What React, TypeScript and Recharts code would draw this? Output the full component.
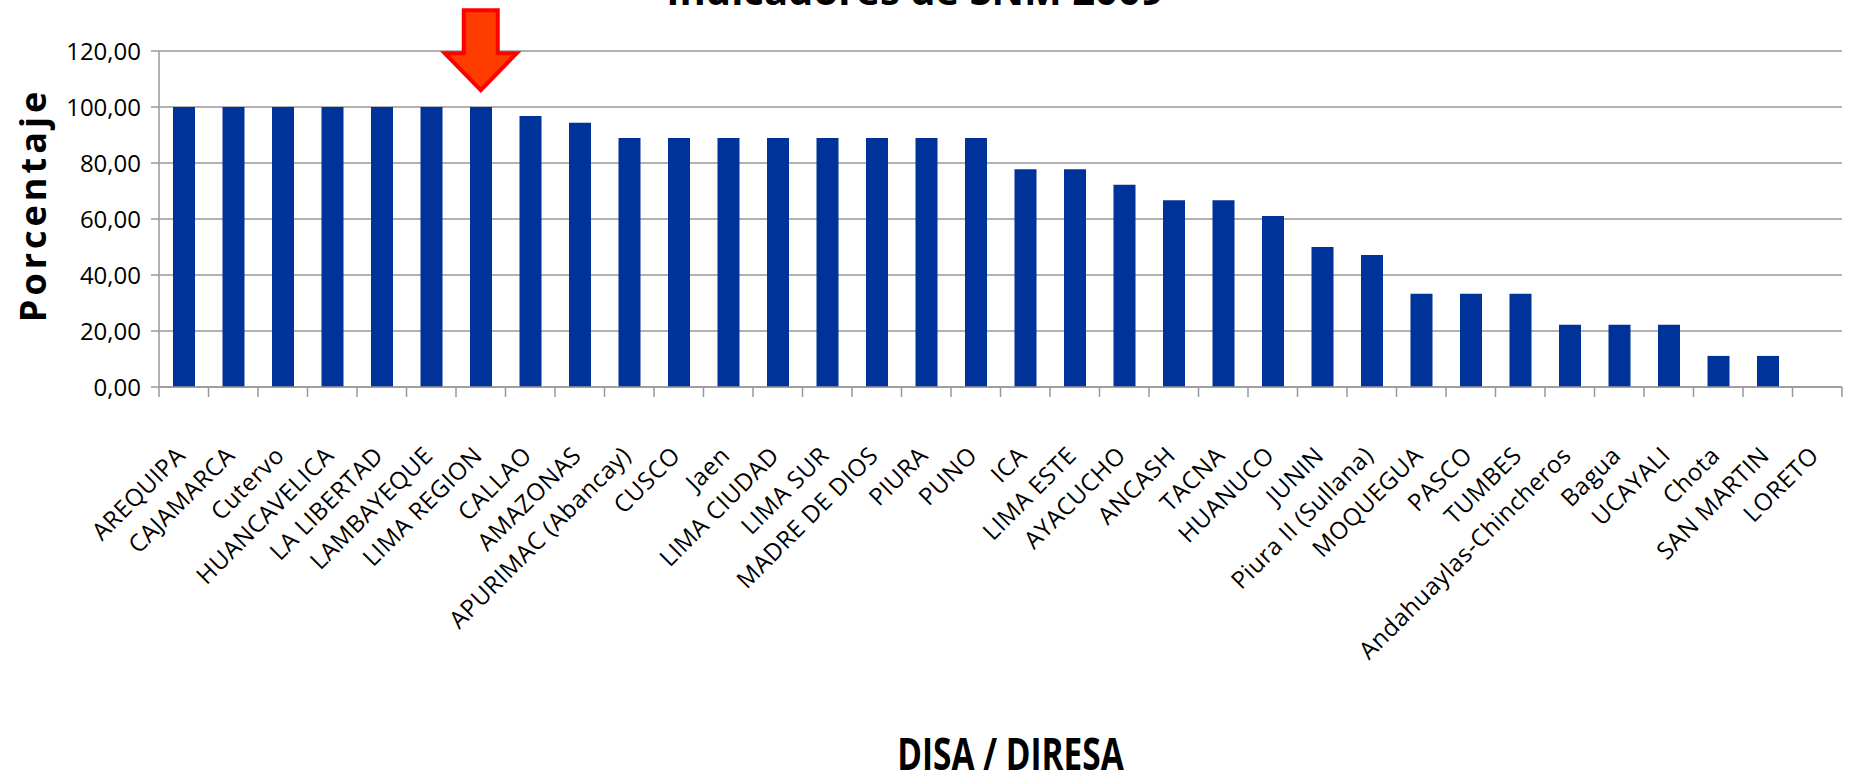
import { Bar, BarChart, CartesianGrid, Label, ReferenceDot, XAxis, YAxis } from "recharts";

const categories = [
    "AREQUIPA", "CAJAMARCA", "Cutervo", "HUANCAVELICA", "LA LIBERTAD", "LAMBAYEQUE", "LIMA REGION",
    "CALLAO", "AMAZONAS", "APURIMAC (Abancay)", "CUSCO", "Jaen", "LIMA CIUDAD", "LIMA SUR",
    "MADRE DE DIOS", "PIURA", "PUNO", "ICA", "LIMA ESTE", "AYACUCHO", "ANCASH", "TACNA",
    "HUANUCO", "JUNIN", "Piura II (Sullana)", "MOQUEGUA", "PASCO", "TUMBES",
    "Andahuaylas-Chincheros", "Bagua", "UCAYALI", "Chota", "SAN MARTIN", "LORETO",
];

const porcentaje = [
    100, 100, 100, 100, 100, 100, 100,
    96.8, 94.4, 88.89, 88.89, 88.89, 88.89, 88.89,
    88.89, 88.89, 88.89, 77.78, 77.78, 72.22, 66.67, 66.67,
    61.11, 50, 47.1, 33.33, 33.33, 33.33,
    22.22, 22.22, 22.22, 11.11, 11.11, 0,
];

const yTicks = [0, 20, 40, 60, 80, 100, 120];

const highlighted = "LIMA REGION";
const arrowTipValue = 106;

const data = categories.map((name, i) => ({ name, value: porcentaje[i] }));

const W = 1849;
const H = 780;
const Y_AXIS_W = 159;
const RIGHT = 7;
const BAND = (W - Y_AXIS_W - RIGHT) / categories.length;

const fmt = (v: number) => v.toFixed(2).replace(".", ",");

function XTick(props: any) {
    const { x, y, payload, index } = props;
    const last = index === categories.length - 1;
    return (
        <g>
            <line x1={x - BAND / 2} y1={y} x2={x - BAND / 2} y2={y + 10} stroke="#999" strokeWidth={1.5} />
            {last && <line x1={x + BAND / 2} y1={y} x2={x + BAND / 2} y2={y + 10} stroke="#999" strokeWidth={1.5} />}
            <text
                x={0}
                y={0}
                transform={`translate(${x + 3},${y + 70}) rotate(-45)`}
                textAnchor="end"
                fontFamily="Open Sans"
                fontSize={24}
                letterSpacing={0.5}
                fill="#000"
            >
                {payload.value}
            </text>
        </g>
    );
}

function Arrow(props: any) {
    const { cx, cy } = props;
    const d = `M${cx},${cy} L${cx - 36},${cy - 37} L${cx - 17},${cy - 37} L${cx - 17},${cy - 80} L${cx + 17},${cy - 80} L${cx + 17},${cy - 37} L${cx + 36},${cy - 37} Z`;
    return <path d={d} fill="#ff3c00" stroke="#ff0000" strokeWidth={4} strokeLinejoin="miter" />;
}

export default function App() {
    return (
        <div style={{ position: "absolute", left: 0, top: 0, width: W, height: H, background: "#fff", overflow: "hidden" }}>
            <BarChart
                width={W}
                height={H}
                data={data}
                margin={{ top: 51, right: RIGHT, left: 0, bottom: 0 }}
                barSize={22}
            >
                <CartesianGrid vertical={false} stroke="#999" strokeWidth={1.5} />
                <XAxis
                    dataKey="name"
                    interval={0}
                    height={H - 387}
                    tickSize={0}
                    tickMargin={0}
                    tickLine={false}
                    axisLine={{ stroke: "#999", strokeWidth: 1.5 }}
                    tick={<XTick />}
                >
                    <Label
                        content={(p: any) => {
                            const vb = p.viewBox;
                            return (
                                <text
                                    x={0}
                                    y={0}
                                    transform={`translate(${vb.x + vb.width / 2 + 10},${vb.y + vb.height - 10}) scale(0.76,1)`}
                                    textAnchor="middle"
                                    fontFamily="Open Sans"
                                    fontWeight="bold"
                                    fontSize={44}
                                    fill="#000"
                                >
                                    DISA / DIRESA
                                </text>
                            );
                        }}
                    />
                </XAxis>
                <YAxis
                    width={Y_AXIS_W}
                    domain={[0, 120]}
                    ticks={yTicks}
                    tickFormatter={fmt}
                    tickSize={8}
                    tickMargin={10}
                    tickLine={{ stroke: "#999", strokeWidth: 1.5 }}
                    axisLine={{ stroke: "#999", strokeWidth: 1.5 }}
                    tick={{ fontFamily: "Open Sans", fontSize: 24, fill: "#000" }}
                >
                    <Label
                        content={(p: any) => {
                            const vb = p.viewBox;
                            const cy = vb.y + vb.height / 2 - 14;
                            return (
                                <g>
                                    <text
                                        x={0}
                                        y={0}
                                        transform={`translate(${vb.x + 46},${cy}) rotate(-90)`}
                                        textAnchor="middle"
                                        fontFamily="Open Sans"
                                        fontWeight="bold"
                                        fontSize={36}
                                        letterSpacing={4}
                                        fill="#000"
                                    >
                                        Porcentaje
                                    </text>
                                    <text
                                        x={915}
                                        y={5}
                                        textAnchor="middle"
                                        fontFamily="Open Sans"
                                        fontWeight="bold"
                                        fontSize={40}
                                        fill="#000"
                                    >
                                        Indicadores de SNM 2009
                                    </text>
                                </g>
                            );
                        }}
                    />
                </YAxis>
                <Bar dataKey="value" fill="#003399" isAnimationActive={false} />
                <ReferenceDot x={highlighted} y={arrowTipValue} ifOverflow="visible" shape={<Arrow />} />
            </BarChart>
        </div>
    );
}
